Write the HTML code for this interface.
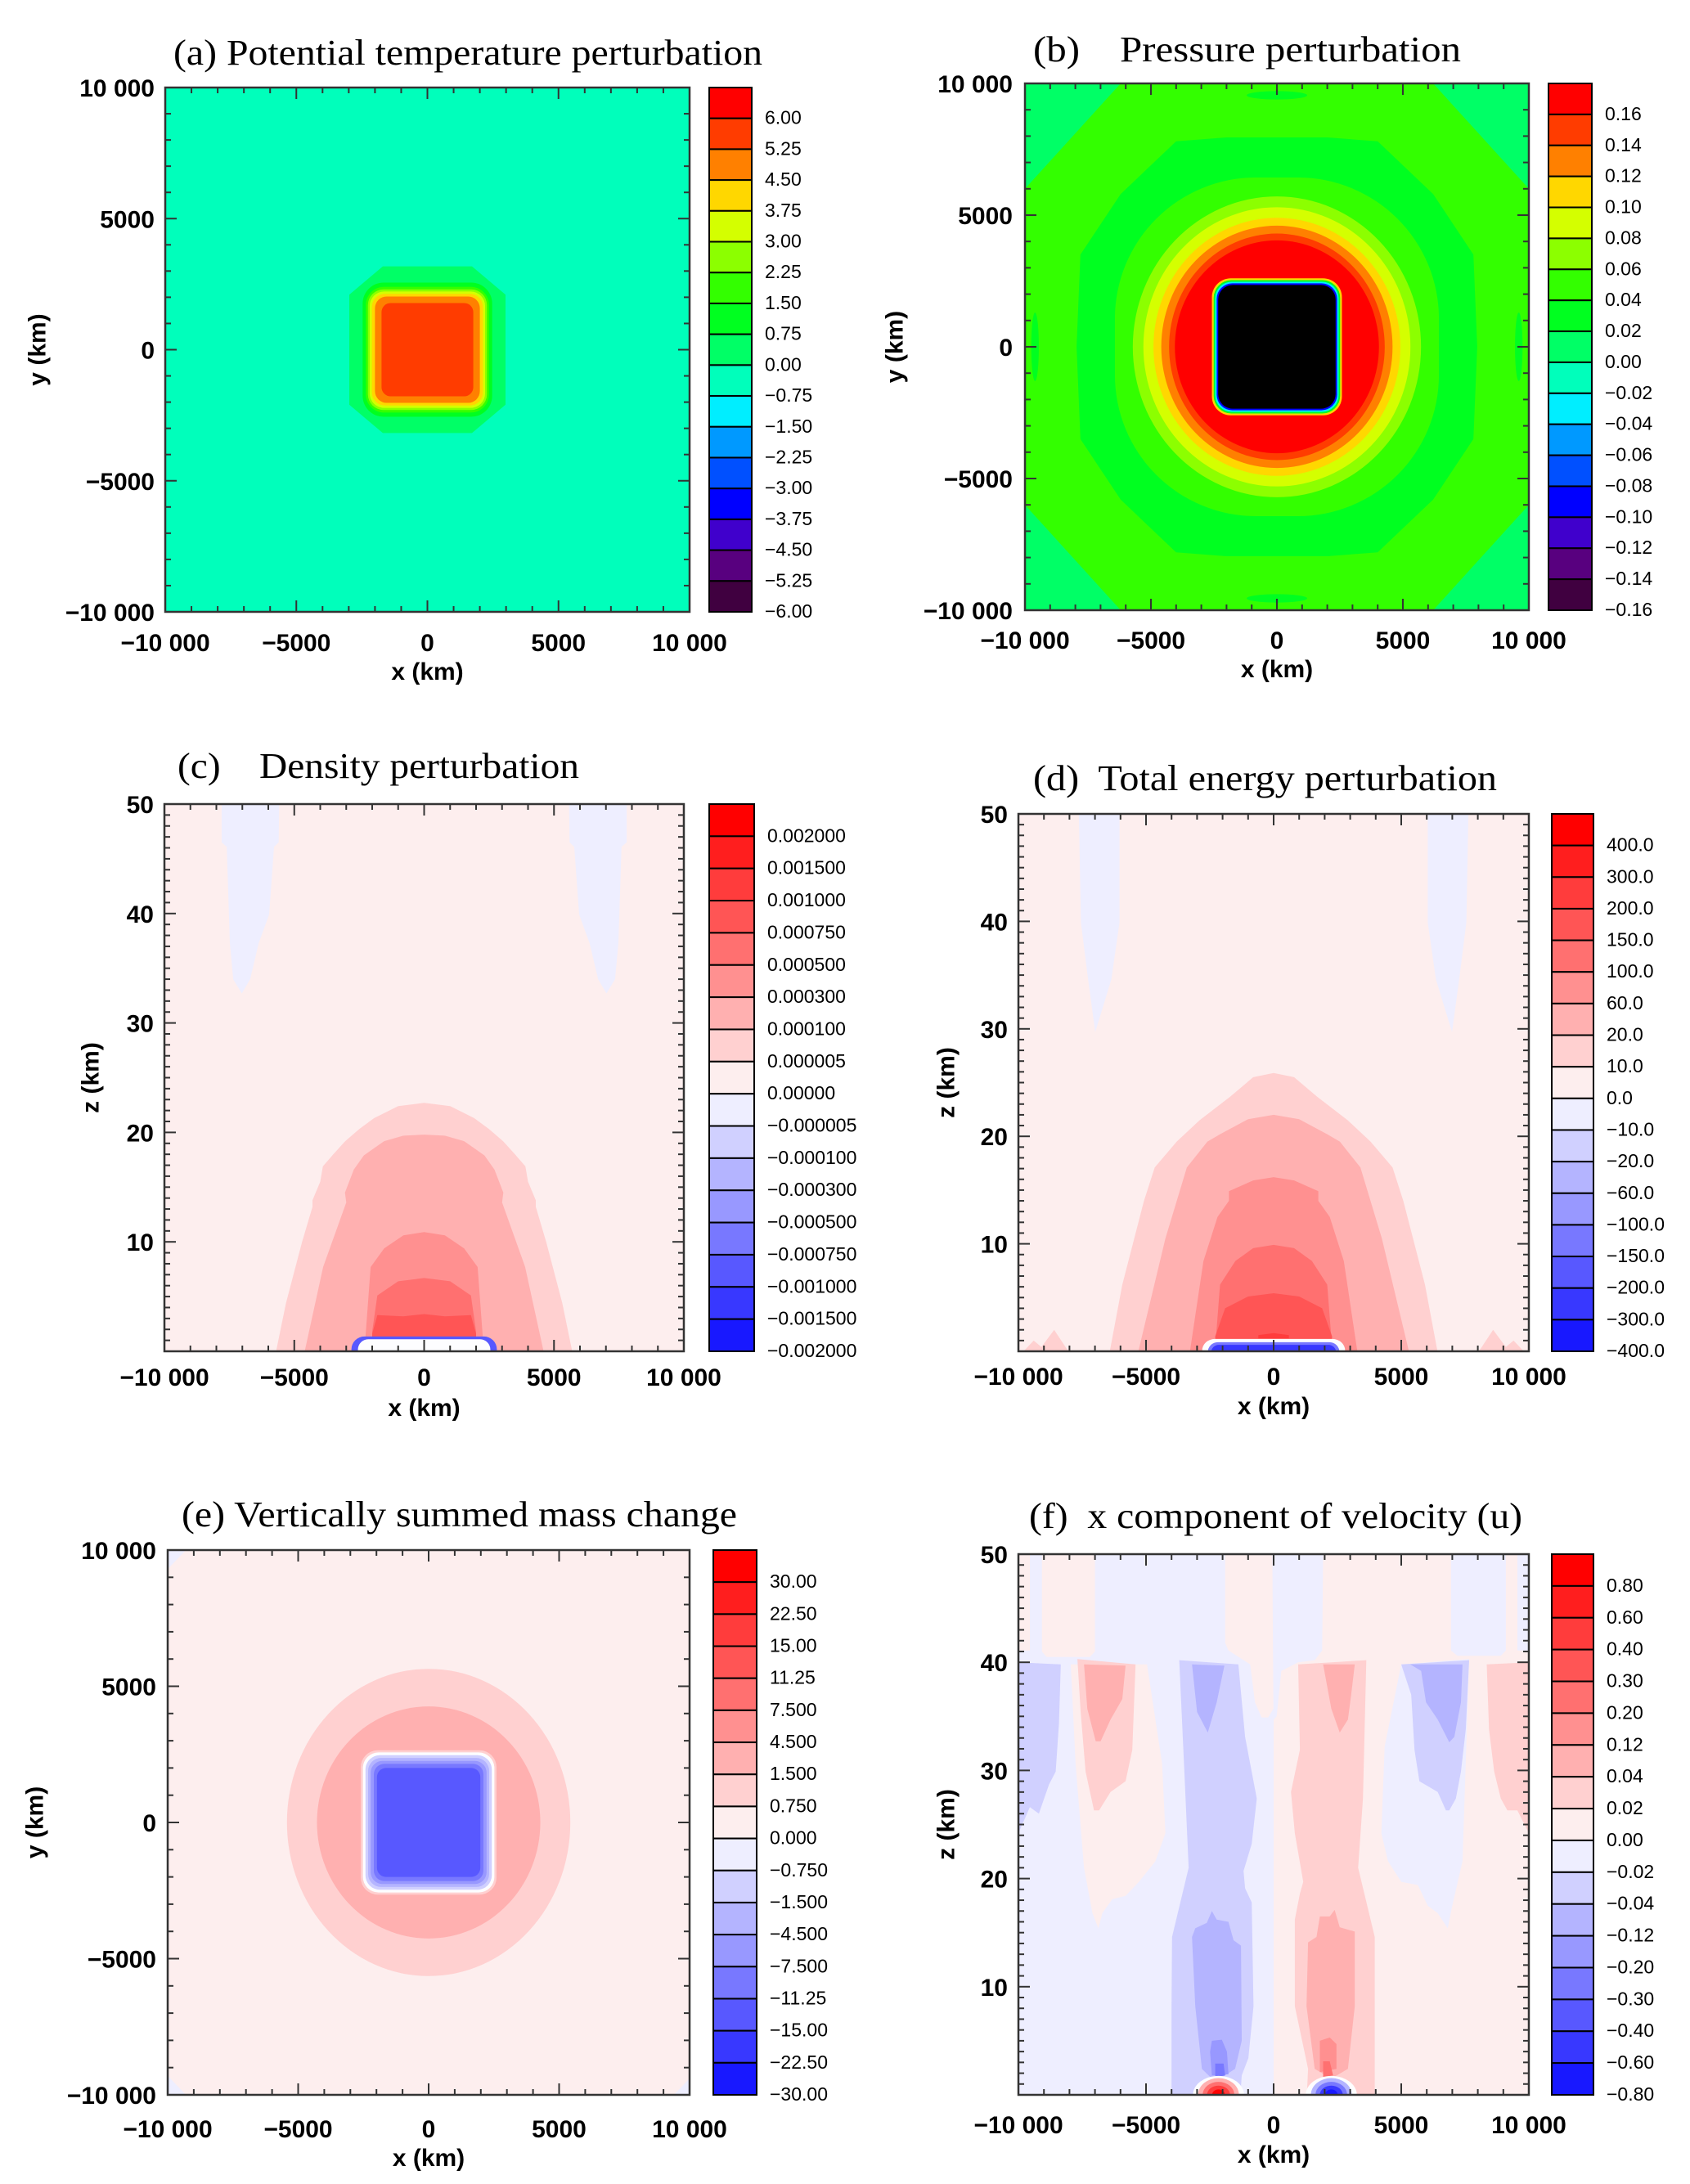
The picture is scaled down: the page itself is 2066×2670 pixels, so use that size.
<!DOCTYPE html>
<html><head><meta charset="utf-8"><title>Perturbation fields</title>
<style>
html,body{margin:0;padding:0;background:#fff;}
svg{display:block;}
text{font-family:"Liberation Sans",Arial,sans-serif;}
.ttl{font-family:"Liberation Serif","Times New Roman",serif;font-size:44px;fill:#000;}
.tk{font-weight:bold;font-size:30px;fill:#000;}
.cbl{font-size:23px;fill:#000;}
</style></head>
<body>
<svg id="fig" xmlns="http://www.w3.org/2000/svg" width="2066" height="2670" viewBox="0 0 2066 2670">
<rect x="0" y="0" width="2066" height="2670" fill="#fff"/>
<text class="ttl" x="212" y="79" textLength="720" lengthAdjust="spacingAndGlyphs">(a) Potential temperature perturbation</text>
<text class="ttl" x="1263" y="75" textLength="523" lengthAdjust="spacingAndGlyphs" xml:space="preserve">(b)    Pressure perturbation</text>
<text class="ttl" x="217" y="951" textLength="491" lengthAdjust="spacingAndGlyphs" xml:space="preserve">(c)    Density perturbation</text>
<text class="ttl" x="1263" y="966" textLength="567" lengthAdjust="spacingAndGlyphs" xml:space="preserve">(d)  Total energy perturbation</text>
<text class="ttl" x="222" y="1866" textLength="679" lengthAdjust="spacingAndGlyphs">(e) Vertically summed mass change</text>
<text class="ttl" x="1258" y="1868" textLength="603" lengthAdjust="spacingAndGlyphs" xml:space="preserve">(f)  x component of velocity (u)</text>
</svg>
<script>
// ---- colour tables (top bin to bottom bin) ----
const rainbowColors = ["#ff0000","#ff3c00","#ff8000","#ffd700","#d4ff00","#8cff00","#33ff00","#00ff20","#00ff66","#00ffbb","#00eeff","#0099ff","#0050ff","#0000ff","#4000cc","#58007f","#400040"];
const blueRedColors = ["#ff0000","#ff1e1e","#ff3c3c","#ff5555","#ff7070","#ff9090","#ffb0b0","#ffd0d0","#fdeeee","#eeeeff","#d0d0ff","#b4b4ff","#9898ff","#7878ff","#5858ff","#3838ff","#1818ff"];
// ---- colorbar tick labels ----
const labelsA = ["6.00","5.25","4.50","3.75","3.00","2.25","1.50","0.75","0.00","−0.75","−1.50","−2.25","−3.00","−3.75","−4.50","−5.25","−6.00"];
const labelsB = ["0.16","0.14","0.12","0.10","0.08","0.06","0.04","0.02","0.00","−0.02","−0.04","−0.06","−0.08","−0.10","−0.12","−0.14","−0.16"];
const labelsC = ["0.002000","0.001500","0.001000","0.000750","0.000500","0.000300","0.000100","0.000005","0.00000","−0.000005","−0.000100","−0.000300","−0.000500","−0.000750","−0.001000","−0.001500","−0.002000"];
const labelsD = ["400.0","300.0","200.0","150.0","100.0","60.0","20.0","10.0","0.0","−10.0","−20.0","−60.0","−100.0","−150.0","−200.0","−300.0","−400.0"];
const labelsE = ["30.00","22.50","15.00","11.25","7.500","4.500","1.500","0.750","0.000","−0.750","−1.500","−4.500","−7.500","−11.25","−15.00","−22.50","−30.00"];
const labelsF = ["0.80","0.60","0.40","0.30","0.20","0.12","0.04","0.02","0.00","−0.02","−0.04","−0.12","−0.20","−0.30","−0.40","−0.60","−0.80"];
// ---- axis ticks ----
const xyTickValues = [-10000,-5000,0,5000,10000];
const xyTickLabels = ["−10 000","−5000","0","5000","10 000"];
const zTickValues = [10,20,30,40,50];
const zTickLabels = ["10","20","30","40","50"];
// ---- field shapes (x in 1000 km, y/z in 1000 km or km); c = colour bin ----
const fieldA = [
 {t:"poly",c:8,p:[[-1.7,3.18],[1.7,3.18],[2.98,2.1],[2.98,-2.1],[1.7,-3.18],[-1.7,-3.18],[-2.98,-2.1],[-2.98,2.1]]},
 {t:"rr",c:7,x:2.47,y:2.56,r:0.8},
 {t:"rr",c:6,x:2.35,y:2.4,r:0.7},
 {t:"rr",c:5,x:2.27,y:2.3,r:0.6},
 {t:"rr",c:4,x:2.2,y:2.22,r:0.55},
 {t:"rr",c:3,x:2.12,y:2.13,r:0.5},
 {t:"rr",c:2,x:2.0,y:2.03,r:0.45},
 {t:"rr",c:1,x:1.75,y:1.78,r:0.35}
];
const fieldB = [
 {t:"poly",c:8,p:[[-10,10],[-6.2,10],[-10,6.0]]},
 {t:"poly",c:8,p:[[10,10],[6.2,10],[10,6.0]]},
 {t:"poly",c:8,p:[[-10,-10],[-6.2,-10],[-10,-6.0]]},
 {t:"poly",c:8,p:[[10,-10],[6.2,-10],[10,-6.0]]},
 {t:"poly",c:7,p:[[-4.0,7.8],[-2,7.95],[2,7.95],[4.0,7.8],[6.2,5.8],[7.8,3.5],[7.95,0],[7.8,-3.5],[6.2,-5.8],[4.0,-7.8],[2,-7.95],[-2,-7.95],[-4.0,-7.8],[-6.2,-5.8],[-7.8,-3.5],[-7.95,0],[-7.8,3.5],[-6.2,5.8]]},
 {t:"ell",c:7,cx:0,cy:9.55,rx:1.2,ry:0.16},
 {t:"ell",c:7,cx:0,cy:-9.55,rx:1.2,ry:0.16},
 {t:"ell",c:7,cx:-9.6,cy:0,rx:0.15,ry:1.3},
 {t:"ell",c:7,cx:9.6,cy:0,rx:0.15,ry:1.3},
 {t:"rr",c:6,x:6.43,y:6.43,r:5.6},
 {t:"ell",c:5,cx:0,cy:0,rx:5.72,ry:5.71},
 {t:"ell",c:4,cx:0,cy:0,rx:5.3,ry:5.3},
 {t:"ell",c:3,cx:0,cy:0,rx:4.9,ry:4.9},
 {t:"ell",c:2,cx:0,cy:0,rx:4.59,ry:4.6},
 {t:"ell",c:1,cx:0,cy:0,rx:4.28,ry:4.3},
 {t:"ell",c:0,cx:0,cy:0,rx:4.05,ry:4.04},
 {t:"rr",c:3,x:2.58,y:2.6,r:0.75},
 {t:"rr",c:7,x:2.51,y:2.53,r:0.7},
 {t:"rr",c:10,x:2.45,y:2.47,r:0.66},
 {t:"rr",c:13,x:2.39,y:2.41,r:0.62},
 {t:"rr",c:-1,x:2.33,y:2.35,r:0.58}
];
const fieldC = [
 {t:"mir",c:9,p:[[-7.8,50],[-5.58,50],[-5.6,46.5],[-5.78,46.1],[-5.97,39.9],[-6.37,37.3],[-6.7,34],[-7.02,32.7],[-7.35,34],[-7.48,37.3],[-7.6,46.1],[-7.8,46.5]]},
 {t:"sym",c:7,p:[[-5.7,0],[-5.32,4.4],[-4.7,10],[-4.3,13.2],[-4.3,13.8],[-4.0,15.5],[-3.9,16.9],[-3.5,18],[-3.04,19.2],[-2.5,20.3],[-1.93,21.3],[-1,22.4],[0,22.7]]},
 {t:"sym",c:6,p:[[-4.6,0],[-3.89,7.7],[-3.0,13.6],[-3.05,14.5],[-2.71,16.6],[-2.32,17.9],[-1.54,19.2],[-0.8,19.7],[0,19.8]]},
 {t:"sym",c:5,p:[[-2.3,0],[-2.06,7.7],[-1.54,9.4],[-0.8,10.6],[0,10.9]]},
 {t:"sym",c:4,p:[[-2.0,0],[-2.0,1.8],[-1.8,5.1],[-1.0,6.4],[0,6.7]]},
 {t:"sym",c:3,p:[[-2.0,0.9],[-2.0,1.6],[-1.8,3.3],[-0.8,3.2],[0,3.4]]},
 {t:"box",c:14,x0:-2.8,x1:2.8,y0:-1,y1:1.35,r:0.5},
 {t:"box",c:-2,x0:-2.55,x1:2.55,y0:-1,y1:1.1,r:0.4}
];
const fieldD = [
 {t:"mir",c:9,p:[[-7.63,50],[-6.04,50],[-6.04,39.9],[-6.36,34.6],[-6.99,29.7],[-7.27,34.6],[-7.55,39.9]]},
 {t:"mir",c:7,p:[[-9.8,0],[-9.4,1.0],[-9.1,0.4],[-8.6,2.0],[-8.1,0.2],[-8.0,0]]},
 {t:"sym",c:7,p:[[-6.42,0],[-5.93,6.2],[-5.08,14],[-4.66,17.1],[-3.8,19.5],[-2.9,21.5],[-1.7,23.7],[-0.8,25.5],[0,25.9]]},
 {t:"sym",c:6,p:[[-5.3,0],[-4.24,10.5],[-3.4,17.1],[-2.6,19.5],[-2.1,20.2],[-1,21.6],[0,22]]},
 {t:"sym",c:5,p:[[-3.28,0],[-2.75,8.4],[-2.2,12.5],[-1.75,14.0],[-1.75,14.9],[-0.8,15.9],[0,16.2]]},
 {t:"sym",c:4,p:[[-2.3,0],[-2.1,6.2],[-1.5,8.4],[-0.8,9.6],[0,9.9]]},
 {t:"sym",c:3,p:[[-2.29,0],[-2.29,1.4],[-1.9,4.0],[-1.0,5.1],[0,5.4]]},
 {t:"sym",c:2,p:[[-0.6,1.2],[-0.6,1.5],[0,1.7]]},
 {t:"box",c:-2,x0:-2.8,x1:2.8,y0:-1,y1:1.15,r:0.5},
 {t:"box",c:13,x0:-2.58,x1:2.58,y0:-1,y1:0.85,r:0.4},
 {t:"box",c:15,x0:-2.45,x1:2.45,y0:-1,y1:0.6,r:0.3}
];
const fieldE = [
 {t:"poly",c:9,p:[[-10,10],[-9.3,10],[-10,9.3]]},
 {t:"poly",c:9,p:[[-10,-10],[-9.3,-10],[-10,-9.3]]},
 {t:"poly",c:9,p:[[10,-10],[9.4,-10],[10,-9.4]]},
 {t:"ell",c:7,cx:0,cy:0,rx:5.43,ry:5.64},
 {t:"ell",c:6,cx:0,cy:0,rx:4.28,ry:4.26},
 {t:"rr",c:7,x:2.6,y:2.65,r:0.65},
 {t:"rr",c:-2,x:2.52,y:2.57,r:0.6},
 {t:"rr",c:10,x:2.42,y:2.47,r:0.55},
 {t:"rr",c:11,x:2.32,y:2.37,r:0.5},
 {t:"rr",c:12,x:2.22,y:2.26,r:0.45},
 {t:"rr",c:13,x:2.1,y:2.15,r:0.4},
 {t:"rr",c:14,x:1.98,y:2.0,r:0.35}
];
const fieldF = [
 {t:"rect",c:9,x0:-10,x1:0,y0:0,y1:50},
 {t:"rect",c:8,x0:0,x1:10,y0:0,y1:50},
 {t:"poly",c:8,p:[[-10,50],[-9.55,50],[-9.55,41.1],[-10,41.1]]},
 {t:"poly",c:8,p:[[-9.08,50],[-7.0,50],[-7.0,41.0],[-7.2,40.5],[-8.9,40.5],[-9.08,41.0]]},
 {t:"poly",c:8,p:[[-1.9,50],[-0.05,50],[-0.01,35.7],[-0.21,34.9],[-0.47,34.9],[-0.73,36.3],[-0.92,39.8],[-1.77,41.1],[-1.9,41.8]]},
 {t:"poly",c:9,p:[[0,50],[1.94,50],[1.9,41.1],[1.61,40.2],[0.96,40.0],[0.3,39.2],[0.12,35],[0,34.7]]},
 {t:"poly",c:9,p:[[6.95,50],[9.1,50],[9.1,41.1],[8.9,40.6],[7.2,40.6],[6.95,41.1]]},
 {t:"poly",c:9,p:[[9.55,50],[10,50],[10,41.1],[9.55,41.1]]},
 {t:"poly",c:10,p:[[-10,40.0],[-8.34,39.8],[-8.41,34.4],[-8.54,29.9],[-8.8,28.7],[-9.2,26.0],[-9.55,26.6],[-10,24.2]]},
 {t:"poly",c:8,p:[[-7.95,39.8],[-4.96,39.8],[-4.37,30.6],[-4.24,24.2],[-4.63,21.6],[-5.28,19.7],[-5.8,18.4],[-6.32,18.1],[-6.71,16.8],[-6.87,15.4],[-7.1,16.8],[-7.43,21.0],[-7.76,30.6]]},
 {t:"poly",c:7,p:[[-7.69,40.3],[-5.41,39.8],[-5.54,31.9],[-5.8,29.0],[-6.39,28.0],[-6.84,26.3],[-7.04,26.3],[-7.37,29.9],[-7.56,35.4]]},
 {t:"poly",c:6,p:[[-7.43,39.8],[-5.8,39.7],[-5.93,36.6],[-6.39,34.7],[-6.78,32.7],[-6.97,32.7],[-7.3,35.7]]},
 {t:"poly",c:10,p:[[-3.7,40.2],[-1.38,39.8],[-1.12,33.1],[-0.66,27.4],[-0.86,23.2],[-1.18,20.7],[-1.12,19.1],[-0.86,17.8],[-0.79,8.2],[-0.99,3.4],[-1.25,1.8],[-1.3,0],[-4.0,0],[-4.0,8.2],[-3.98,14.6],[-3.33,21.0],[-3.5,30]]},
 {t:"poly",c:11,p:[[-3.2,39.8],[-1.93,39.7],[-2.23,36.3],[-2.58,33.5],[-3.0,35.4]]},
 {t:"poly",c:11,p:[[-3.07,15.4],[-2.62,15.9],[-2.42,17.0],[-2.23,16.2],[-1.77,16.0],[-1.57,14.3],[-1.28,13.8],[-1.25,5.0],[-1.51,2.4],[-2.29,1.2],[-2.81,2.4],[-3.07,8.2],[-3.2,14.6]]},
 {t:"poly",c:12,p:[[-2.42,5.0],[-2.03,5.1],[-1.83,4.0],[-1.77,1.9],[-2.42,1.8],[-2.49,4.0]]},
 {t:"poly",c:13,p:[[-2.29,2.9],[-1.96,2.9],[-1.9,1.8],[-2.29,1.6]]},
 {t:"poly",c:7,p:[[0.96,39.8],[3.63,40.2],[3.5,27.4],[3.31,21.0],[3.96,14.6],[3.96,0],[1.3,0],[1.35,2.4],[0.83,8.2],[0.83,16.2],[1.03,18.6],[1.16,19.7],[0.83,24.2],[0.68,28.0],[1.03,31.9]]},
 {t:"poly",c:6,p:[[1.94,39.8],[3.18,39.8],[3.04,37.0],[2.91,34.7],[2.59,33.5],[2.26,35.7]]},
 {t:"poly",c:6,p:[[1.81,16.5],[2.2,16.5],[2.39,17.1],[2.59,15.5],[3.18,15.1],[3.18,8.2],[2.91,2.4],[2.26,1.5],[1.61,2.4],[1.29,8.2],[1.35,14.1],[1.68,14.6]]},
 {t:"poly",c:5,p:[[1.81,5.0],[2.2,5.3],[2.46,4.7],[2.46,2.4],[1.81,2.1]]},
 {t:"poly",c:4,p:[[1.94,3.1],[2.2,3.1],[2.33,1.8],[1.94,1.6]]},
 {t:"poly",c:9,p:[[5.0,39.8],[7.66,40.3],[7.4,21.6],[7.0,17.5],[6.82,15.4],[6.43,16.8],[6.04,17.5],[5.65,19.4],[5.0,19.7],[4.48,21.6],[4.22,24.2],[4.35,32.2]]},
 {t:"poly",c:10,p:[[5.0,39.8],[7.66,40.2],[7.53,33.8],[7.34,29.9],[7.14,27.4],[6.88,26.3],[6.75,26.3],[6.43,28.0],[5.71,29.0],[5.52,31.9],[5.39,37.0]]},
 {t:"poly",c:11,p:[[5.36,39.8],[7.4,39.8],[7.34,36.3],[7.08,33.1],[6.88,32.6],[6.43,34.7],[5.97,36.3],[5.78,39.2]]},
 {t:"poly",c:7,p:[[8.35,39.8],[10,40.0],[10,24.2],[9.55,26.3],[9.16,26.3],[8.9,27.4],[8.64,29.9],[8.44,33.8]]},
 {t:"ell",c:-2,cx:-2.16,cy:0,rx:1.0,ry:1.75},
 {t:"ell",c:6,cx:-2.16,cy:0,rx:0.8,ry:1.55},
 {t:"ell",c:4,cx:-2.16,cy:0,rx:0.62,ry:1.2},
 {t:"ell",c:2,cx:-2.16,cy:0,rx:0.45,ry:0.85},
 {t:"ell",c:0,cx:-2.16,cy:0,rx:0.25,ry:0.5},
 {t:"ell",c:-2,cx:2.26,cy:0,rx:1.0,ry:1.75},
 {t:"ell",c:11,cx:2.26,cy:0,rx:0.8,ry:1.55},
 {t:"ell",c:13,cx:2.26,cy:0,rx:0.62,ry:1.2},
 {t:"ell",c:15,cx:2.26,cy:0,rx:0.45,ry:0.85},
 {t:"ell",c:16,cx:2.26,cy:0,rx:0.25,ry:0.5}
];

const NS="http://www.w3.org/2000/svg";
const svg=document.getElementById("fig");
function mk(tag,attrs,parent){const e=document.createElementNS(NS,tag);for(const k in attrs)e.setAttribute(k,attrs[k]);(parent||svg).appendChild(e);return e;}

const panels=[
 {id:"a",x0:202,x1:843,y0:107,y1:748,ymin:-10,ymax:10,bg:9,cm:rainbowColors,f:fieldA,lab:labelsA,cb:[867,919],ytr:189,xb:796,xt:831,yt:46,ytitle:"y (km)"},
 {id:"b",x0:1253,x1:1869,y0:102,y1:746,ymin:-10,ymax:10,bg:6,cm:rainbowColors,f:fieldB,lab:labelsB,cb:[1893,1946],ytr:1238,xb:793,xt:828,yt:1094,ytitle:"y (km)"},
 {id:"c",x0:201,x1:836,y0:983,y1:1652,ymin:0,ymax:50,bg:8,cm:blueRedColors,f:fieldC,lab:labelsC,cb:[867,922],ytr:188,xb:1694,xt:1731,yt:111,ytitle:"z (km)"},
 {id:"d",x0:1245,x1:1869,y0:995,y1:1652,ymin:0,ymax:50,bg:8,cm:blueRedColors,f:fieldD,lab:labelsD,cb:[1897,1948],ytr:1232,xb:1693,xt:1729,yt:1157,ytitle:"z (km)"},
 {id:"e",x0:205,x1:843,y0:1895,y1:2561,ymin:-10,ymax:10,bg:8,cm:blueRedColors,f:fieldE,lab:labelsE,cb:[872,925],ytr:191,xb:2613,xt:2648,yt:43,ytitle:"y (km)"},
 {id:"f",x0:1245,x1:1869,y0:1900,y1:2561,ymin:0,ymax:50,bg:8,cm:blueRedColors,f:fieldF,lab:labelsF,cb:[1897,1948],ytr:1232,xb:2608,xt:2644,yt:1157,ytitle:"z (km)"}
];

function colorOf(P,c){if(c===-1)return "#000000";if(c===-2)return "#fdfdff";return P.cm[c];}

panels.forEach(P=>{
 const X=v=>P.x0+(v+10)/20*(P.x1-P.x0);
 const Y=v=>P.y1-(v-P.ymin)/(P.ymax-P.ymin)*(P.y1-P.y0);
 const sx=(P.x1-P.x0)/20, sy=(P.y1-P.y0)/(P.ymax-P.ymin);
 const g=mk("g",{});
 
 
 const defs=mk("defs",{},g);
 const cp=mk("clipPath",{id:"clip-"+P.id},defs);
 mk("rect",{x:P.x0,y:P.y0,width:P.x1-P.x0,height:P.y1-P.y0},cp);
 const bg=mk("rect",{x:P.x0,y:P.y0,width:P.x1-P.x0,height:P.y1-P.y0,fill:P.cm[P.bg]},g);
 
 
 const fg=mk("g",{"clip-path":"url(#clip-"+P.id+")"},g);
 
 
 const polyStr=pts=>pts.map(p=>X(p[0]).toFixed(1)+","+Y(p[1]).toFixed(1)).join(" ");
 P.f.forEach(s=>{
  const fill=colorOf(P,s.c);
  let el;
  if(s.t==="poly"){el=mk("polygon",{points:polyStr(s.p),fill:fill},fg);}
  else if(s.t==="sym"){const full=s.p.concat(s.p.slice(0,-1).reverse().map(p=>[-p[0],p[1]]));el=mk("polygon",{points:polyStr(full),fill:fill},fg);}
  else if(s.t==="mir"){el=mk("polygon",{points:polyStr(s.p),fill:fill},fg);const el2=mk("polygon",{points:polyStr(s.p.map(p=>[-p[0],p[1]])),fill:fill},fg);
   
   }
  else if(s.t==="ell"){el=mk("ellipse",{cx:X(s.cx),cy:Y(s.cy),rx:s.rx*sx,ry:s.ry*sy,fill:fill},fg);}
  else if(s.t==="rr"){el=mk("rect",{x:X(-s.x),y:Y(s.y),width:2*s.x*sx,height:2*s.y*sy,rx:s.r*sx,ry:s.r*sx,fill:fill},fg);}
  else if(s.t==="box"){el=mk("rect",{x:X(s.x0),y:Y(s.y1),width:(s.x1-s.x0)*sx,height:(s.y1-s.y0)*sy,rx:s.r*sx,ry:Math.min(s.r*sx,(s.y1-s.y0)*sy/2),fill:fill},fg);}
  else if(s.t==="rect"){el=mk("rect",{x:X(s.x0),y:Y(s.y1),width:(s.x1-s.x0)*sx,height:(s.y1-s.y0)*sy,fill:fill},fg);}
  
  
 });
 const fr=mk("rect",{x:P.x0,y:P.y0,width:P.x1-P.x0,height:P.y1-P.y0,fill:"none",stroke:"#333","stroke-width":2.5},g);
 
 
 const tg=mk("g",{stroke:"#333","stroke-width":2},g);
 
 
 for(let i=0;i<=20;i++){const v=-10+i;const L=(i%5===0)?14:7;const x=X(v);
  mk("line",{x1:x,y1:P.y1,x2:x,y2:P.y1-L},tg);mk("line",{x1:x,y1:P.y0,x2:x,y2:P.y0+L},tg);}
 const isZ=P.ymax===50;const nY=isZ?50:20;
 for(let i=0;i<=nY;i++){const v=P.ymin+i*(P.ymax-P.ymin)/nY;const L=(i%(isZ?10:5)===0)?14:7;const y=Y(v);
  mk("line",{x1:P.x0,y1:y,x2:P.x0+L,y2:y},tg);mk("line",{x1:P.x1,y1:y,x2:P.x1-L,y2:y},tg);}
 xyTickValues.forEach((v,i)=>{const t=mk("text",{x:X(v/1000),y:P.xb,"text-anchor":"middle",class:"tk"},g);t.textContent=xyTickLabels[i];
  
  });
 if(isZ){zTickValues.forEach((v,i)=>{const t=mk("text",{x:P.ytr,y:Y(v)+11,"text-anchor":"end",class:"tk"},g);t.textContent=zTickLabels[i];
  
  });}
 else{xyTickValues.forEach((v,i)=>{const t=mk("text",{x:P.ytr,y:Y(v/1000)+11,"text-anchor":"end",class:"tk"},g);t.textContent=xyTickLabels[i];
  
  });}
 const xt=mk("text",{x:(P.x0+P.x1)/2,y:P.xt,"text-anchor":"middle",class:"tk","font-size":"31"},g);xt.textContent="x (km)";
 
 
 const cy=(P.y0+P.y1)/2;
 const yt=mk("text",{x:P.yt,y:cy,"text-anchor":"middle","dominant-baseline":"central",class:"tk","font-size":"31",transform:"rotate(-90 "+P.yt+" "+cy+")"},g);yt.textContent=P.ytitle;
 
 
 const cb=mk("g",{},g);
 
 
 const n=P.cm.length,h=(P.y1-P.y0)/n;
 P.cm.forEach((col,i)=>{const r=mk("rect",{x:P.cb[0],y:P.y0+i*h,width:P.cb[1]-P.cb[0],height:h,fill:col,stroke:"#000","stroke-width":2},cb);
  
  });
 P.lab.forEach((s,i)=>{const t=mk("text",{x:P.cb[1]+16,y:P.y0+(i+1)*h+7,class:"cbl"},cb);t.textContent=s;
  
  });
});
</script>
</body></html>
